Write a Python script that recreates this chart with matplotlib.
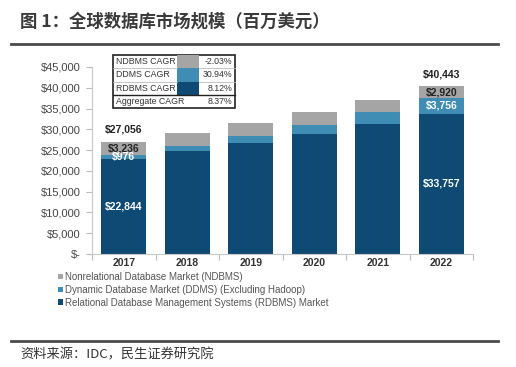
import matplotlib
matplotlib.use("Agg")
import matplotlib.pyplot as plt
from matplotlib.patches import Rectangle, Patch
from matplotlib.lines import Line2D

plt.rcParams['font.family'] = ['Liberation Sans', 'Noto Sans CJK SC', 'DejaVu Sans']

years = ['2017', '2018', '2019', '2020', '2021', '2022']
rdbms = [22844, 24700, 26700, 28870, 31220, 33757]
ddms = [976, 1280, 1670, 2190, 2870, 3756]
ndbms = [3236, 3170, 3100, 3050, 2980, 2920]
totals = [27056, None, None, None, None, 40443]
labelled = [0, 5]

cagr_names = ['NDBMS CAGR', 'DDMS CAGR', 'RDBMS CAGR']
cagr_values = ['-2.03%', '30.94%', '8.12%']
aggregate = ('Aggregate CAGR', '8.37%')

legend_names = ['Nonrelational Database Market (NDBMS)',
                'Dynamic Database Market (DDMS) (Excluding Hadoop)',
                'Relational Database Management Systems (RDBMS) Market']
yticks = [0, 5000, 10000, 15000, 20000, 25000, 30000, 35000, 40000, 45000]

c_r = '#0e4a74'
c_d = '#3f8cb4'
c_n = '#a5a5a5'

W, H = 516, 367
fig = plt.figure(figsize=(W / 100, H / 100), dpi=100)


def fx(x):
    return x / W


def fy(y):
    return 1 - y / H


ax = fig.add_axes([fx(92), fy(254), fx(473) - fx(92), fy(67) - fy(254)])
x = list(range(len(years)))
bw = 0.71
bottom2 = [a + b for a, b in zip(rdbms, ddms)]
top = [a + b for a, b in zip(bottom2, ndbms)]
ax.bar(x, rdbms, bw, color=c_r, zorder=2)
ax.bar(x, ddms, bw, bottom=rdbms, color=c_d, zorder=2)
ax.bar(x, ndbms, bw, bottom=bottom2, color=c_n, zorder=2)

for i in labelled:
    ax.text(i, rdbms[i] / 2, f'${rdbms[i]:,}', ha='center', va='center',
            color='white', fontsize=7.5, fontweight='bold')
    ax.text(i, rdbms[i] + ddms[i] / 2, f'${ddms[i]:,}', ha='center', va='center',
            color='white', fontsize=7.5, fontweight='bold')
    ax.text(i, bottom2[i] + ndbms[i] / 2, f'${ndbms[i]:,}', ha='center', va='center',
            color='#222222', fontsize=7.5, fontweight='bold')
    ax.annotate(f'${totals[i]:,}', (i, top[i]), xytext=(0, 5), textcoords='offset points',
                ha='center', va='bottom', color='#222222', fontsize=7.5, fontweight='bold')

ax.set_xlim(-0.5, 5.5)
ax.set_ylim(0, 45000)
ax.set_yticks(yticks)
ax.set_yticklabels(['$-'] + [f'${v:,}' for v in yticks[1:]])
ax.set_xticks([i - 0.5 for i in range(len(years) + 1)])
ax.set_xticklabels([])
ax.set_xticks(x, minor=True)
ax.set_xticklabels(years, minor=True, fontweight='bold', fontsize=7.5, color='#333333')
ax.tick_params(axis='x', which='minor', length=0, pad=3)
ax.tick_params(axis='x', which='major', length=4, color='#bbbbbb')
ax.tick_params(axis='y', length=4, color='#bbbbbb', labelsize=8, labelcolor='#444444', pad=4)
for s in ['top', 'right']:
    ax.spines[s].set_visible(False)
for s in ['left', 'bottom']:
    ax.spines[s].set_color('#c8c8c8')

# CAGR box
tl, tr, tt, tb = 113, 235, 55, 108
rh = (tb - tt) / 4
fig.add_artist(Rectangle((fx(tl), fy(tb)), fx(tr) - fx(tl), fy(tt) - fy(tb),
                         transform=fig.transFigure, facecolor='white',
                         edgecolor='#222222', lw=1.2))
swatch = [c_n, c_d, c_r]
for k in range(3):
    ytop = tt + k * rh
    fig.add_artist(Rectangle((fx(177), fy(ytop + rh)), fx(199) - fx(177), fy(ytop) - fy(ytop + rh),
                             transform=fig.transFigure, facecolor=swatch[k], edgecolor='none'))
    fig.text(fx(116), fy(ytop + rh / 2), cagr_names[k], fontsize=6.3, color='#333333',
             va='center', ha='left')
    fig.text(fx(232), fy(ytop + rh / 2), cagr_values[k], fontsize=6.3, color='#333333',
             va='center', ha='right')
    if k < 2:
        fig.add_artist(Line2D([fx(tl), fx(177)], [fy(ytop + rh)] * 2, color='#bbbbbb', lw=0.6))
        fig.add_artist(Line2D([fx(199), fx(tr)], [fy(ytop + rh)] * 2, color='#bbbbbb', lw=0.6))
fig.add_artist(Line2D([fx(tl), fx(tr)], [fy(tt + 3 * rh)] * 2, color='#222222', lw=1.0))
fig.text(fx(116), fy(tt + 3.5 * rh), aggregate[0], fontsize=6.3, color='#333333',
         va='center', ha='left')
fig.text(fx(232), fy(tt + 3.5 * rh), aggregate[1], fontsize=6.3, color='#333333',
         va='center', ha='right')

# legend
handles = [Patch(facecolor=c, edgecolor='none') for c in [c_n, c_d, c_r]]
fig.legend(handles, legend_names, loc='upper left', bbox_to_anchor=(fx(58), fy(272)),
           frameon=False, fontsize=7, handlelength=0.55, handleheight=0.55,
           handletextpad=0.2, labelspacing=0.3, borderaxespad=0, borderpad=0,
           labelcolor='#555555')

# title, rules, source
fig.text(fx(20), fy(22), '图 1：全球数据库市场规模（百万美元）', fontsize=12.5, fontweight='bold',
         color='#3a3a3a', va='center', ha='left', family=['Noto Sans CJK SC', 'DejaVu Sans'])
fig.add_artist(Line2D([fx(11), fx(498)], [fy(44)] * 2, color='#4a4a4a', lw=2))
fig.add_artist(Line2D([fx(11), fx(498)], [fy(341)] * 2, color='#4a4a4a', lw=2))
fig.text(fx(20), fy(355), '资料来源：IDC，民生证券研究院', fontsize=9.5, color='#333333',
         va='center', ha='left', family=['Noto Sans CJK SC', 'DejaVu Sans'])

fig.savefig('out.png', dpi=100)
